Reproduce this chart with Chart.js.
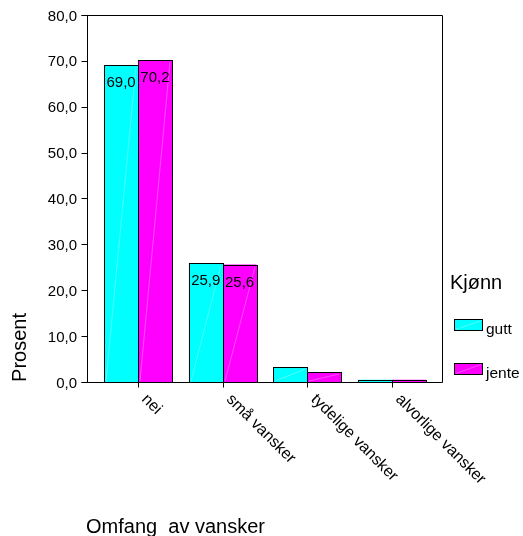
<!DOCTYPE html>
<html><head><meta charset="utf-8">
<script src="https://cdn.jsdelivr.net/npm/chart.js@4/dist/chart.umd.min.js"></script>
<style>html,body{margin:0;padding:0;background:#fff;}canvas{display:block;}</style>
</head><body>
<canvas id="c" width="523" height="536"></canvas>
<script>
// ---- data ----
const categories = ['nei', 'små vansker', 'tydelige vansker', 'alvorlige vansker'];
const seriesNames = ['gutt', 'jente'];
const guttValues = [69.0, 25.9, 3.2, 0.5];
const jenteValues = [70.2, 25.6, 2.2, 0.5];
const yTickValues = [0, 10, 20, 30, 40, 50, 60, 70, 80];
const yTickLabels = ['0,0', '10,0', '20,0', '30,0', '40,0', '50,0', '60,0', '70,0', '80,0'];
const legendTitle = 'Kjønn';
const yTitle = 'Prosent';
const xTitle = 'Omfang  av vansker';
const dataLabelMin = 10;

// ---- styles ----
const FONT = '"Liberation Sans", Arial, sans-serif';
const seriesColors = ['#00FFFF', '#FF00FF'];
const FRAME = { left: 87.5, right: 442.5, top: 15.5, bottom: 382.5 };

function fmt(v) { return v.toFixed(1).replace('.', ','); }

const spssPlugin = {
  id: 'spss',
  afterDatasetsDraw(chart) {
    const ctx = chart.ctx;
    chart.data.datasets.forEach((ds, di) => {
      const meta = chart.getDatasetMeta(di);
      meta.data.forEach((bar, i) => {
        const p = bar.getProps(['x', 'y', 'base', 'width'], true);
        const l = Math.round(p.x - p.width / 2);
        const r = Math.round(p.x + p.width / 2);
        const t = Math.round(p.y);
        const b = Math.round(p.base);
        ctx.save();
        ctx.fillStyle = ds.backgroundColor;
        ctx.fillRect(l, t, r - l, b - t);
        if (b - t > 3) {
          ctx.strokeStyle = 'rgba(255,255,255,0.3)';
          ctx.lineWidth = 1;
          ctx.beginPath();
          ctx.moveTo(l + 2, b - 1);
          ctx.lineTo(r - 2, t + 2);
          ctx.stroke();
        }
        ctx.strokeStyle = '#000';
        ctx.lineWidth = 1;
        ctx.strokeRect(l + 0.5, t + 0.5, r - l, b - t);
        const v = ds.data[i];
        if (v >= dataLabelMin) {
          ctx.fillStyle = '#000';
          ctx.font = '15px ' + FONT;
          ctx.textAlign = 'center';
          ctx.textBaseline = 'alphabetic';
          ctx.fillText(fmt(v), p.x, p.y + 22);
        }
        ctx.restore();
      });
    });
  },
  afterDraw(chart) {
    const ctx = chart.ctx;
    const xs = chart.scales.x, ys = chart.scales.y;
    ctx.save();
    ctx.strokeStyle = '#000';
    ctx.lineWidth = 1;
    // frame
    ctx.beginPath();
    ctx.moveTo(FRAME.left, FRAME.bottom); ctx.lineTo(FRAME.left, FRAME.top);
    ctx.moveTo(FRAME.left - 6, FRAME.top); ctx.lineTo(FRAME.right, FRAME.top);
    ctx.lineTo(FRAME.right, FRAME.bottom);
    ctx.moveTo(FRAME.left - 6, FRAME.bottom); ctx.lineTo(FRAME.right, FRAME.bottom);
    ctx.stroke();
    // y ticks + labels
    ctx.font = '15px ' + FONT;
    ctx.fillStyle = '#000';
    ctx.textAlign = 'right';
    ctx.textBaseline = 'alphabetic';
    yTickValues.forEach((v, i) => {
      const y = ys.getPixelForValue(v);
      const yy = Math.round(y - 0.01) + 0.5;
      ctx.beginPath(); ctx.moveTo(FRAME.left - 6, yy); ctx.lineTo(FRAME.left, yy); ctx.stroke();
      ctx.fillText(yTickLabels[i], 77, y + 5.6);
    });
    // x ticks + rotated labels
    ctx.font = '16px ' + FONT;
    ctx.textAlign = 'left';
    categories.forEach((c, i) => {
      const x = xs.getPixelForValue(i);
      const xx = Math.round(x) + 0.5;
      ctx.beginPath(); ctx.moveTo(xx, FRAME.bottom); ctx.lineTo(xx, FRAME.bottom + 5); ctx.stroke();
      ctx.save();
      ctx.translate(x + 3, 400);
      ctx.rotate(Math.PI / 4);
      ctx.fillText(c, 0, 0);
      ctx.restore();
    });
    // axis titles
    ctx.font = '20px ' + FONT;
    ctx.textAlign = 'left';
    ctx.fillText(xTitle, 86, 533);
    ctx.save();
    ctx.translate(26, 347.5);
    ctx.rotate(-Math.PI / 2);
    ctx.textAlign = 'center';
    ctx.fillText(yTitle, 0, 0);
    ctx.restore();
    // legend
    ctx.textAlign = 'left';
    ctx.fillText(legendTitle, 450, 289);
    const boxTops = [319, 363];
    chart.data.datasets.forEach((ds, di) => {
      const top = boxTops[di];
      ctx.fillStyle = ds.backgroundColor;
      ctx.fillRect(454, top, 29, 12);
      ctx.strokeStyle = 'rgba(255,255,255,0.3)';
      ctx.beginPath(); ctx.moveTo(456, top + 10.5); ctx.lineTo(481, top + 1.5); ctx.stroke();
      ctx.strokeStyle = '#000';
      ctx.strokeRect(454.5, top + 0.5, 28, 11);
      ctx.fillStyle = '#000';
      ctx.font = '15.5px ' + FONT;
      ctx.fillText(ds.label, 486, top + 14.5);
      ctx.font = '20px ' + FONT;
    });
    ctx.restore();
  }
};

new Chart(document.getElementById('c'), {
  type: 'bar',
  data: {
    labels: categories,
    datasets: [
      { label: seriesNames[0], data: guttValues, backgroundColor: seriesColors[0], borderWidth: 0 },
      { label: seriesNames[1], data: jenteValues, backgroundColor: seriesColors[1], borderWidth: 0 }
    ]
  },
  options: {
    responsive: false,
    animation: false,
    devicePixelRatio: 1,
    layout: { padding: { left: 95.67, right: 88.67, top: 15, bottom: 154 } },
    datasets: { bar: { categoryPercentage: 0.8, barPercentage: 1.0 } },
    scales: {
      x: { display: false, offset: true, grid: { display: false } },
      y: { display: false, min: 0, max: 80, ticks: { stepSize: 10 } }
    },
    plugins: { legend: { display: false }, tooltip: { enabled: false }, title: { display: false } }
  },
  plugins: [spssPlugin]
});
</script>
</body></html>
